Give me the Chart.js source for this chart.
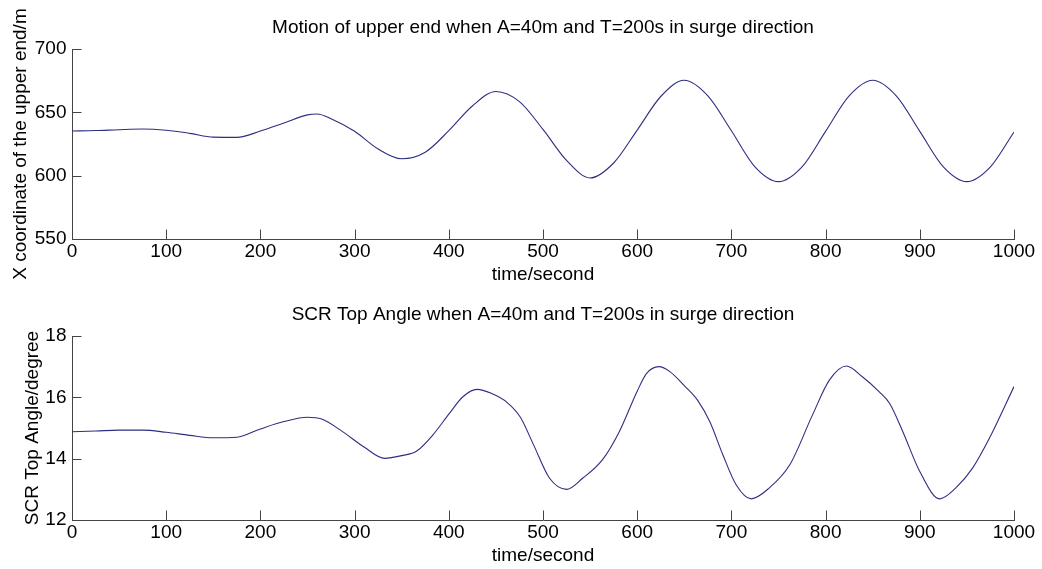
<!DOCTYPE html>
<html>
<head>
<meta charset="utf-8">
<script src="https://cdn.jsdelivr.net/npm/chart.js@4.4.1/dist/chart.umd.min.js"></script>
<style>
  body { margin: 0; background: #fff; }
  #wrap { position: relative; width: 1042px; height: 569px; }
  canvas { position: absolute; left: 0; }
</style>
</head>
<body>
<div id="wrap">
  <canvas id="surge" width="1042" height="290" style="top:0"></canvas>
  <canvas id="angle" width="1042" height="279" style="top:290px"></canvas>
</div>
<script>
// upper end motion (top plot)
const timeTop = [0, 25, 50, 75, 100, 125, 150, 175, 200, 225, 250, 260, 275, 300, 325, 350, 375,
  400, 425, 450, 475, 500, 525, 550, 575, 600, 625, 650, 675, 700, 725, 750, 775,
  800, 825, 850, 875, 900, 925, 950, 975, 1000];
const upperX = [635.3, 635.6, 636.3, 636.8, 635.8, 633.4, 630.4, 630.2, 635.2, 641.5, 648, 648.7, 645,
  635, 621, 613.3, 618.5, 635.5, 655, 666.5, 658.5, 636.5, 612, 598.2, 610, 636, 662.5, 675.3,
  663, 635.5, 607, 595.3, 607, 635, 663, 675.3, 663, 635, 607, 595.3, 607, 634.5];

// SCR top angle (bottom plot)
const timeBot = [0, 25, 50, 75, 100, 125, 150, 175, 200, 225, 250, 265, 285, 310, 332, 350, 366,
  383, 400, 415, 430, 445, 462, 476, 490, 507, 525, 542, 563, 581, 600, 610, 623, 635, 650, 664,
  677, 691, 705, 721, 740, 762, 786, 804, 822, 839, 857, 868, 882, 900, 921, 938, 956, 974, 1000];
const topAngle = [14.88, 14.9, 14.93, 14.93, 14.86, 14.76, 14.68, 14.7, 14.97, 15.21, 15.35, 15.29,
  14.93, 14.38, 14.01, 14.1, 14.25, 14.77, 15.45, 16.02, 16.26, 16.13, 15.83, 15.35, 14.45, 13.36,
  13.0, 13.36, 13.96, 14.88, 16.2, 16.78, 17.0, 16.83, 16.38, 15.91, 15.21, 14.12, 13.15, 12.69,
  13.04, 13.8, 15.42, 16.56, 17.02, 16.67, 16.18, 15.8, 14.88, 13.58, 12.69, 13.04, 13.69, 14.67, 16.35];

const xTicks = [0, 100, 200, 300, 400, 500, 600, 700, 800, 900, 1000];

const FONT = { family: "'Liberation Sans', Arial, sans-serif", size: 19 };
const AXIS = '#444';
const TICK_LEN = 9.5;

function pts(xs, ys) {
  return xs.map((x, i) => ({ x: x, y: ys[i] }));
}

// matlab style ticks pointing into the plot
const innerTicks = {
  id: 'innerTicks',
  afterDraw(chart) {
    const { ctx, chartArea: a, scales } = chart;
    ctx.save();
    ctx.strokeStyle = AXIS;
    ctx.lineWidth = 1;
    ctx.beginPath();
    scales.x.ticks.forEach(t => {
      const px = Math.round(scales.x.getPixelForValue(t.value)) + 0.5;
      ctx.moveTo(px, a.bottom);
      ctx.lineTo(px, a.bottom - TICK_LEN);
    });
    scales.y.ticks.forEach(t => {
      const py = Math.round(scales.y.getPixelForValue(t.value)) + 0.5;
      ctx.moveTo(a.left, py);
      ctx.lineTo(a.left + TICK_LEN, py);
    });
    ctx.stroke();
    ctx.restore();
  }
};

function plot(id, cfg) {
  new Chart(document.getElementById(id), {
    type: 'line',
    data: {
      datasets: [{
        data: pts(cfg.xs, cfg.ys),
        xAxisID: 'x',
        yAxisID: 'y',
        borderColor: '#2e2e80',
        borderWidth: 1.1,
        pointRadius: 0,
        cubicInterpolationMode: 'monotone',
        fill: false
      }]
    },
    options: {
      responsive: false,
      animation: false,
      layout: { padding: { left: 0, right: 28, top: 0, bottom: 0 } },
      plugins: {
        legend: { display: false },
        tooltip: { enabled: false }
      },
      scales: {
        x: {
          type: 'linear',
          min: 0,
          max: 1000,
          afterBuildTicks: (s) => { s.ticks = xTicks.map(v => ({ value: v })); },
          afterFit: (s) => { s.height = cfg.xHeight; },
          ticks: { color: '#000', font: FONT, padding: 1.6, maxRotation: 0,
                   callback: (v) => String(v) },
          grid: { drawOnChartArea: false, drawTicks: false },
          border: { color: AXIS, width: 1 },
          title: { display: true, text: 'time/second', color: '#000', font: FONT,
                   padding: { top: 0, bottom: cfg.xTitlePad } }
        },
        y: {
          min: cfg.ymin,
          max: cfg.ymax,
          ticks: { stepSize: cfg.ystep, color: '#000', font: FONT, padding: 5.5 },
          afterFit: (s) => { s.width = 72; },
          grid: { drawOnChartArea: false, drawTicks: false },
          border: { color: AXIS, width: 1 },
          title: { display: true, text: cfg.ylabel, color: '#000', font: FONT,
                   padding: { top: cfg.yTitlePad, bottom: 0 } }
        },
        // empty top axis, only used to center the title over the plot
        top: {
          type: 'linear',
          axis: 'x',
          position: 'top',
          min: 0,
          max: 1,
          afterFit: (s) => { s.height = cfg.topHeight; },
          ticks: { display: false },
          grid: { display: false, drawTicks: false },
          border: { display: false },
          title: { display: true, text: cfg.title, color: '#000', font: FONT,
                   padding: { top: cfg.titleTop, bottom: 0 } }
        }
      }
    },
    plugins: [innerTicks]
  });
}

plot('surge', {
  xs: timeTop, ys: upperX,
  title: 'Motion of upper end when A=40m and T=200s in surge direction',
  topHeight: 49, titleTop: 16.6,
  ylabel: 'X coordinate of the upper end/m',
  ymin: 550, ymax: 700, ystep: 50,
  xHeight: 51, xTitlePad: 4.1, yTitlePad: 9.6
});

plot('angle', {
  xs: timeBot, ys: topAngle,
  title: 'SCR Top Angle when A=40m and T=200s in surge direction',
  topHeight: 46, titleTop: 13.6,
  ylabel: 'SCR Top Angle/degree',
  ymin: 12, ymax: 18, ystep: 2,
  xHeight: 49, xTitlePad: 2.1, yTitlePad: 21.6
});
</script>
</body>
</html>
